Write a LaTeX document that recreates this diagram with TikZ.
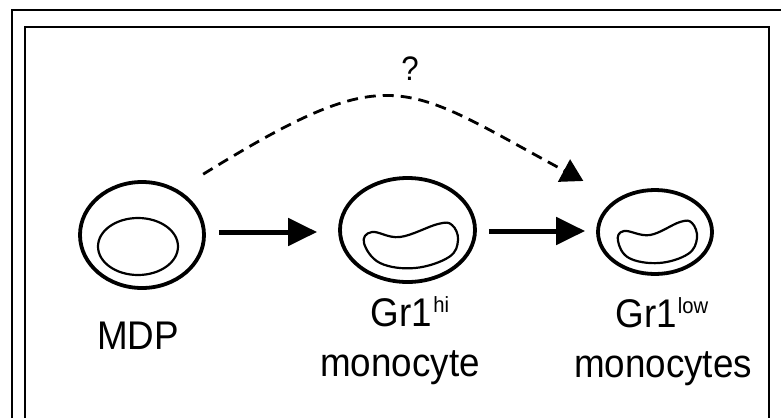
\documentclass[tikz,border=0pt]{standalone}
\usepackage{fontspec}
\usepackage{graphicx}
\setmainfont{Liberation Sans}
\usetikzlibrary{shapes.geometric,arrows.meta}
% slightly narrowed label text
\newcommand\narrowtext[1]{\scalebox{0.92}[1]{#1}}
% raised small label after "Gr1"
\newcommand\hiscript[1]{\hspace{1pt}\raisebox{14pt}{\fontsize{22}{24}\selectfont #1}}
\begin{document}
\begin{tikzpicture}[x=1pt,y=-1pt,
  frameline/.style={line width=1.8pt, draw=black},
  cell/.style={draw, ellipse, line width=3.8pt, inner sep=0pt},
  nucleus/.style={draw, line width=2.2pt},
  flow/.style={line width=5pt, -{Triangle[length=29pt,width=27pt]}},
  maybe/.style={line width=2.8pt, dash pattern=on 11pt off 7pt, -{Triangle[length=22pt,width=25pt]}},
  lbl/.style={anchor=base, inner sep=0pt, font=\fontsize{40}{44}\selectfont},
]
\useasboundingbox (0,0) rectangle (781,418);
\fill[white] (0,0) rectangle (781,418);

% double frame, open at the bottom and on the right
\draw[frameline] (12,418) -- (12,10) -- (781,10);
\draw[frameline] (25,418) -- (25,27) -- (769,27) -- (769,418);

% cells
\node[cell, minimum width=124pt, minimum height=106pt] (mdp) at (142,235) {};
\node[nucleus, ellipse, inner sep=0pt, minimum width=80pt, minimum height=57pt] (mdpnuc) at (138,246.5) {};
\node[cell, minimum width=135pt, minimum height=104pt] (hi) at (407.5,230) {};
\node[cell, minimum width=114pt, minimum height=84pt] (low) at (655,232) {};

% kidney-shaped nuclei
\draw[nucleus] plot[smooth cycle, tension=0.65] coordinates
  {(364,243) (372,232) (400,237) (438,224) (452,225) (458,240) (449,257) (415,268) (380,263)};
\draw[nucleus] plot[smooth cycle, tension=0.65] coordinates
  {(618,241) (624,231) (650,235) (680,222) (692,223) (697,238) (688,254) (659,263) (629,258)};

% labels
\node[lbl] (mdplbl) at (138,349) {\narrowtext{MDP}};
\node[lbl] (hilbl) at (410,326) {\narrowtext{Gr1\hiscript{hi}}};
\node[lbl] (himono) at (400,376) {\narrowtext{monocyte}};
\node[lbl] (lowlbl) at (662,327) {\narrowtext{Gr1\hiscript{low}}};
\node[lbl] (lowmono) at (663,377) {\narrowtext{monocytes}};
\node[lbl, font=\fontsize{34}{36}\selectfont] (q) at (410,80) {\narrowtext{?}};

% transitions
\draw[flow] ([shift={(13,-3)}]mdp.east) -- ([shift={(-21,2)}]hi.west);
\draw[flow] ([shift={(12,1)}]hi.east) -- ([shift={(-11,-1)}]low.west);
\draw[maybe] ([shift={(16,-22)}]mdp.north east) .. controls +(190,-117) and +(-182,-98) .. ([shift={(-30,-20)}]low.north west);
\end{tikzpicture}
\end{document}
